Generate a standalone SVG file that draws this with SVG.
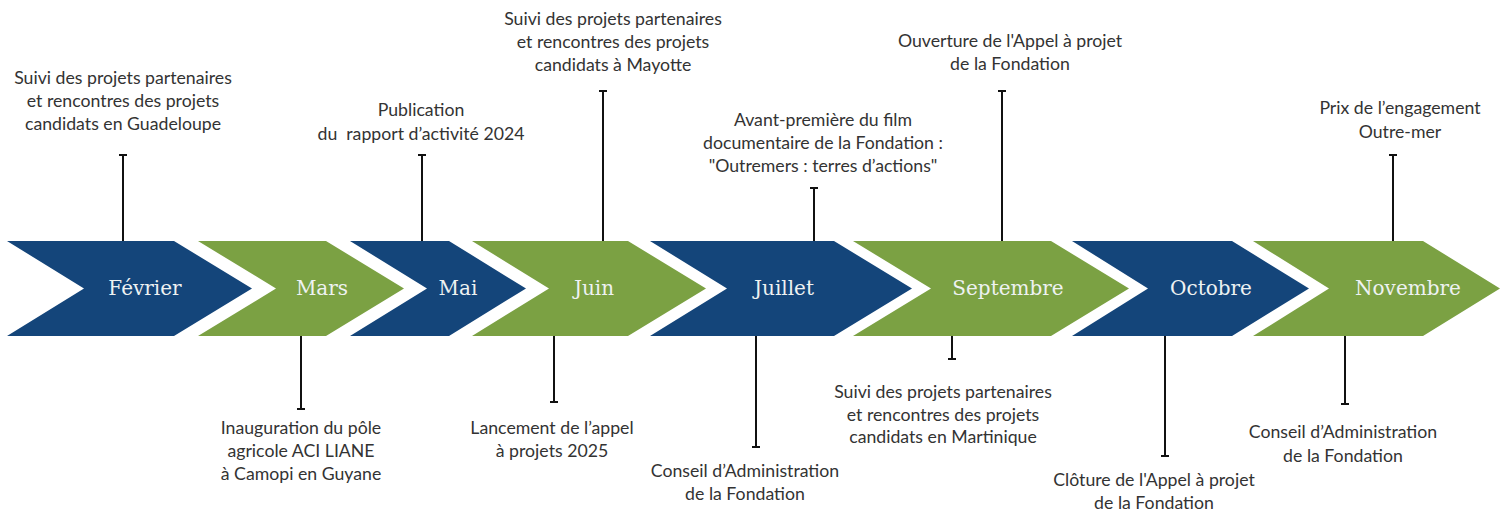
<svg xmlns="http://www.w3.org/2000/svg" width="1507" height="516" viewBox="0 0 1507 516">
<style>
.blue{fill:#14457a}
.green{fill:#7ba143}
.month{font-family:"DejaVu Serif","Liberation Serif",serif;font-size:20px;fill:#eef2f2;text-anchor:middle}
.lbl{font-family:Lato,"Open Sans",sans-serif;font-size:17.7px;fill:#333;text-anchor:middle}
.con line{stroke:#111;stroke-width:2}
</style>
<rect width="1507" height="516" fill="#fff"/>
<g id="fevrier"><polygon class="blue" points="7,241 174,241 252,288.5 174,336 7,336 84,288.5"/><text class="month" x="145" y="295">Février</text></g>
<g id="mars"><polygon class="green" points="198,241 326,241 404,288.5 326,336 198,336 276,288.5"/><text class="month" x="322" y="295">Mars</text></g>
<g id="mai"><polygon class="blue" points="350,241 449,241 526,288.5 449,336 350,336 427,288.5"/><text class="month" x="458" y="295">Mai</text></g>
<g id="juin"><polygon class="green" points="472,241 628,241 706,288.5 628,336 472,336 549,288.5"/><text class="month" x="594" y="295">Juin</text></g>
<g id="juillet"><polygon class="blue" points="650,241 834,241 912,288.5 834,336 650,336 727,288.5"/><text class="month" x="784" y="295">Juillet</text></g>
<g id="septembre"><polygon class="green" points="853,241 1051,241 1129,288.5 1051,336 853,336 931,288.5"/><text class="month" x="1008" y="295">Septembre</text></g>
<g id="octobre"><polygon class="blue" points="1072,241 1232,241 1309,288.5 1232,336 1072,336 1148,288.5"/><text class="month" x="1211" y="295">Octobre</text></g>
<g id="novembre"><polygon class="green" points="1253,241 1423,241 1500,288.5 1423,336 1253,336 1329,288.5"/><text class="month" x="1408" y="295">Novembre</text></g>

<g id="connectors" class="con">
<line x1="123" y1="241" x2="123" y2="155"/><line x1="119" y1="155" x2="127" y2="155"/>
<line x1="422" y1="241" x2="422" y2="155"/><line x1="418" y1="155" x2="426" y2="155"/>
<line x1="603" y1="241" x2="603" y2="91"/><line x1="599" y1="91" x2="607" y2="91"/>
<line x1="814" y1="241" x2="814" y2="188"/><line x1="810" y1="188" x2="818" y2="188"/>
<line x1="1002" y1="241" x2="1002" y2="91"/><line x1="998" y1="91" x2="1006" y2="91"/>
<line x1="1393" y1="241" x2="1393" y2="155"/><line x1="1389" y1="155" x2="1397" y2="155"/>
<line x1="301" y1="336" x2="301" y2="409"/><line x1="297" y1="409" x2="305" y2="409"/>
<line x1="554" y1="336" x2="554" y2="402"/><line x1="550" y1="402" x2="558" y2="402"/>
<line x1="756" y1="336" x2="756" y2="447"/><line x1="752" y1="447" x2="760" y2="447"/>
<line x1="952" y1="336" x2="952" y2="359"/><line x1="948" y1="359" x2="956" y2="359"/>
<line x1="1165" y1="336" x2="1165" y2="456"/><line x1="1161" y1="456" x2="1169" y2="456"/>
<line x1="1345" y1="336" x2="1345" y2="404"/><line x1="1341" y1="404" x2="1349" y2="404"/>
</g>

<g id="ev-fevrier"><text class="lbl" x="123" y="84"><tspan x="123">Suivi des projets partenaires</tspan><tspan x="123" dy="23">et rencontres des projets</tspan><tspan x="123" dy="23">candidats en Guadeloupe</tspan></text></g>
<g id="ev-mai"><text class="lbl" x="421" y="116" style="white-space:pre"><tspan x="421">Publication</tspan><tspan x="421" dy="24">du  rapport d’activité 2024</tspan></text></g>
<g id="ev-juin-top"><text class="lbl" x="613" y="25"><tspan x="613">Suivi des projets partenaires</tspan><tspan x="613" dy="23">et rencontres des projets</tspan><tspan x="613" dy="23">candidats à Mayotte</tspan></text></g>
<g id="ev-juillet-top"><text class="lbl" x="823" y="126"><tspan x="823">Avant-première du film</tspan><tspan x="823" dy="23">documentaire de la Fondation :</tspan><tspan x="823" dy="23">"Outremers : terres d’actions"</tspan></text></g>
<g id="ev-septembre-top"><text class="lbl" x="1010" y="47"><tspan x="1010">Ouverture de l'Appel à projet</tspan><tspan x="1010" dy="23">de la Fondation</tspan></text></g>
<g id="ev-novembre-top"><text class="lbl" x="1400" y="114"><tspan x="1400">Prix de l’engagement</tspan><tspan x="1400" dy="24">Outre-mer</tspan></text></g>
<g id="ev-mars"><text class="lbl" x="301" y="434"><tspan x="301">Inauguration du pôle</tspan><tspan x="301" dy="23">agricole ACI LIANE</tspan><tspan x="301" dy="23">à Camopi en Guyane</tspan></text></g>
<g id="ev-juin-bottom"><text class="lbl" x="552" y="434"><tspan x="552">Lancement de l’appel</tspan><tspan x="552" dy="23">à projets 2025</tspan></text></g>
<g id="ev-juillet-bottom"><text class="lbl" x="745" y="477"><tspan x="745">Conseil d’Administration</tspan><tspan x="745" dy="23">de la Fondation</tspan></text></g>
<g id="ev-septembre-bottom"><text class="lbl" x="943" y="398"><tspan x="943">Suivi des projets partenaires</tspan><tspan x="943" dy="23">et rencontres des projets</tspan><tspan x="943" dy="22">candidats en Martinique</tspan></text></g>
<g id="ev-octobre"><text class="lbl" x="1154" y="486"><tspan x="1154">Clôture de l'Appel à projet</tspan><tspan x="1154" dy="23">de la Fondation</tspan></text></g>
<g id="ev-novembre-bottom"><text class="lbl" x="1343" y="438"><tspan x="1343">Conseil d’Administration</tspan><tspan x="1343" dy="24">de la Fondation</tspan></text></g>
</svg>
